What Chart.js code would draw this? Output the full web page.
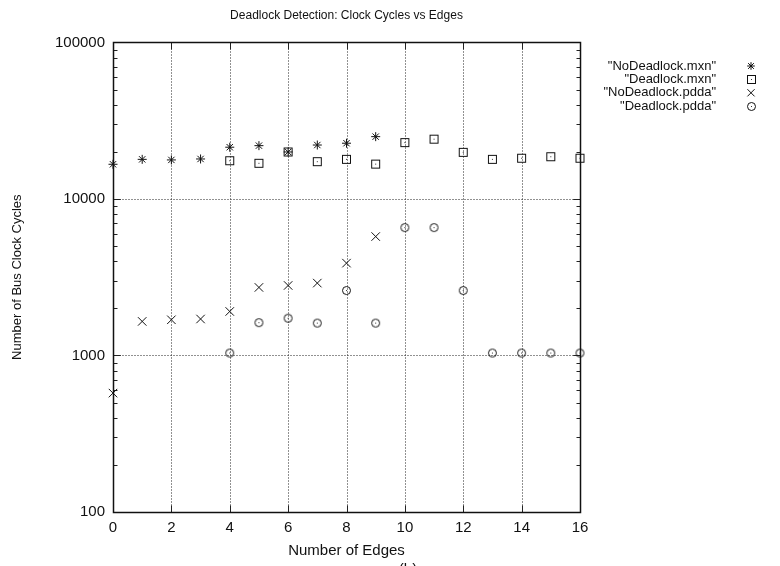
<!DOCTYPE html>
<html>
<head>
<meta charset="utf-8">
<script src="https://cdn.jsdelivr.net/npm/chart.js@4/dist/chart.umd.min.js"></script>
<style>
  html, body { margin: 0; padding: 0; background: #fff; }
  canvas { display: block; }
</style>
</head>
<body>
<canvas id="myChart" width="780" height="566"></canvas>
<script>
'use strict';

// データ
const edges = [0, 1, 2, 3, 4, 5, 6, 7, 8, 9, 10, 11, 12, 13, 14, 15, 16];
const noDeadlockMxn = [16650, 17900, 17750, 18000, 21400, 21900, 19950, 22100, 22700, 25000,
                       null, null, null, null, null, null, null];
const deadlockMxn = [null, null, null, null, 17550, 16900, 19950, 17300, 17900, 16700,
                     22900, 24100, 19850, 17900, 18200, 18600, 18200];
const noDeadlockPdda = [575, 1650, 1690, 1710, 1910, 2720, 2800, 2900, 3890, 5750,
                        null, null, null, null, null, null, null];
const deadlockPdda = [null, null, null, null, 1036, 1620, 1730, 1610, 2600, 1610,
                      6560, 6560, 2600, 1036, 1036, 1036, 1036];

const seriesNames = ['"NoDeadlock.mxn"', '"Deadlock.mxn"', '"NoDeadlock.pdda"', '"Deadlock.pdda"'];
const xTicks = [0, 2, 4, 6, 8, 10, 12, 14, 16];
const yTicks = [100, 1000, 10000, 100000];

const FONT = "'Liberation Sans', Arial, Helvetica, sans-serif";

// マーカー画像（中心に点のある四角・丸）
function makeMarker(kind) {
    const c = document.createElement('canvas');
    c.width = 11;
    c.height = 11;
    const g = c.getContext('2d');
    g.strokeStyle = '#111';
    g.lineWidth = 1;
    if (kind === 'square') {
        g.strokeRect(1.5, 1.5, 8, 8);
    } else {
        g.beginPath();
        g.arc(5.5, 5.5, 4, 0, Math.PI * 2);
        g.stroke();
    }
    g.fillStyle = '#333';
    g.fillRect(5, 5, 1, 1);
    return c;
}
const squareMark = makeMarker('square');
const circleMark = makeMarker('circle');

function toPoints(arr) {
    return edges.map((e, i) => ({ x: e, y: arr[i] })).filter(p => p.y !== null);
}

const styles = [
    { pointStyle: 'star', radius: 4.5 },
    { pointStyle: squareMark, radius: 5 },
    { pointStyle: 'crossRot', radius: 6 },
    { pointStyle: circleMark, radius: 5 }
];
const values = [noDeadlockMxn, deadlockMxn, noDeadlockPdda, deadlockPdda];

const datasets = values.map((v, i) => ({
    label: seriesNames[i],
    data: toPoints(v),
    showLine: false,
    clip: false,
    pointStyle: styles[i].pointStyle,
    pointRadius: styles[i].radius,
    pointHoverRadius: styles[i].radius,
    pointBorderColor: '#111',
    pointBackgroundColor: 'rgba(0,0,0,0)',
    pointBorderWidth: 1
}));

// 凡例の記号を描く
function drawMarker(ctx, style, x, y, r) {
    ctx.save();
    ctx.strokeStyle = '#111';
    ctx.lineWidth = 1;
    if (style === 'star' || style === 'crossRot') {
        const d = style === 'star' ? r * 0.75 : Math.cos(Math.PI / 4) * r;
        ctx.beginPath();
        ctx.moveTo(x - d, y - d); ctx.lineTo(x + d, y + d);
        ctx.moveTo(x - d, y + d); ctx.lineTo(x + d, y - d);
        if (style === 'star') {
            ctx.moveTo(x, y - r); ctx.lineTo(x, y + r);
            ctx.moveTo(x - r, y); ctx.lineTo(x + r, y);
        }
        ctx.stroke();
    } else {
        ctx.drawImage(style, Math.round(x - style.width / 2), Math.round(y - style.height / 2));
    }
    ctx.restore();
}

// 枠・目盛・点線グリッド
const framePlugin = {
    id: 'frame',
    beforeDatasetsDraw(chart) {
        const ctx = chart.ctx;
        const a = chart.chartArea;
        const xs = chart.scales.x;
        const ys = chart.scales.y;
        const L = Math.round(a.left) + 0.5, R = Math.round(a.right) + 0.5;
        const T = Math.round(a.top) + 0.5, B = Math.round(a.bottom) + 0.5;
        ctx.save();
        ctx.lineWidth = 1;
        ctx.strokeStyle = '#222';

        // 点線グリッド
        ctx.setLineDash([1, 2]);
        ctx.beginPath();
        xTicks.slice(1, -1).forEach(t => {
            const px = Math.round(xs.getPixelForValue(t)) + 0.5;
            ctx.moveTo(px, T); ctx.lineTo(px, B);
        });
        yTicks.slice(1, -1).forEach(t => {
            const py = Math.round(ys.getPixelForValue(t)) + 0.5;
            ctx.moveTo(L, py); ctx.lineTo(R, py);
        });
        ctx.stroke();
        ctx.setLineDash([]);

        // 目盛（内向き）
        ctx.beginPath();
        xTicks.forEach(t => {
            const px = Math.round(xs.getPixelForValue(t)) + 0.5;
            ctx.moveTo(px, B); ctx.lineTo(px, B - 7);
            ctx.moveTo(px, T); ctx.lineTo(px, T + 7);
        });
        for (let dec = 100; dec < 100000; dec *= 10) {
            for (let m = 1; m <= 10; m++) {
                const py = Math.round(ys.getPixelForValue(dec * m)) + 0.5;
                const len = (m === 1 || m === 10) ? 7 : 4;
                ctx.moveTo(L, py); ctx.lineTo(L + len, py);
                ctx.moveTo(R, py); ctx.lineTo(R - len, py);
            }
        }
        ctx.stroke();

        // 枠
        ctx.lineWidth = 1.5;
        ctx.strokeStyle = '#111';
        ctx.strokeRect(L, T, R - L, B - T);
        ctx.restore();
    },
    afterDraw(chart) {
        const ctx = chart.ctx;
        ctx.save();
        ctx.font = '13px ' + FONT;
        ctx.fillStyle = '#111';
        ctx.textAlign = 'right';
        ctx.textBaseline = 'middle';
        chart.data.datasets.forEach((ds, i) => {
            const y = 66 + i * 13.4;
            ctx.fillText(ds.label, 716, y);
            drawMarker(ctx, ds.pointStyle, 751, y, ds.pointRadius * 0.85);
        });
        // 下端で切れているキャプション
        ctx.textAlign = 'center';
        ctx.textBaseline = 'top';
        ctx.font = '15px ' + FONT;
        ctx.fillText('(b)', 408, 562);
        ctx.restore();
    }
};

Chart.defaults.font.family = FONT;
Chart.defaults.color = '#111';

const myChart = new Chart(document.getElementById('myChart'), {
    type: 'scatter',
    data: { datasets: datasets },
    options: {
        responsive: false,
        animation: false,
        events: [],
        layout: { padding: { left: 0, right: 200, top: 0, bottom: 0 } },
        plugins: {
            legend: { display: false },
            tooltip: { enabled: false },
            title: {
                display: true,
                text: 'Deadlock Detection: Clock Cycles vs Edges',
                fullSize: false,
                font: { size: 12, weight: 'normal' },
                color: '#111',
                padding: { top: 8, bottom: 20 }
            }
        },
        scales: {
            x: {
                type: 'linear',
                min: 0,
                max: 16,
                grid: { display: false, drawTicks: false },
                border: { display: false },
                ticks: {
                    stepSize: 2,
                    padding: 7,
                    font: { size: 15 },
                    color: '#111',
                    callback: v => String(v)
                },
                title: {
                    display: true,
                    text: 'Number of Edges',
                    font: { size: 15 },
                    color: '#111',
                    padding: { top: 0, bottom: 6 }
                },
                afterFit: s => { s.height = 54; }
            },
            y: {
                type: 'logarithmic',
                min: 100,
                max: 100000,
                grid: { display: false, drawTicks: false },
                border: { display: false },
                afterBuildTicks: s => { s.ticks = yTicks.map(v => ({ value: v })); },
                ticks: {
                    autoSkip: false,
                    padding: 8,
                    font: { size: 15 },
                    color: '#111',
                    callback: v => String(v)
                },
                title: {
                    display: true,
                    text: 'Number of Bus Clock Cycles',
                    font: { size: 13 },
                    color: '#111',
                    padding: { top: 10, bottom: 0 }
                },
                afterFit: s => { s.width = 113; }
            }
        }
    },
    plugins: [framePlugin]
});
</script>
</body>
</html>
